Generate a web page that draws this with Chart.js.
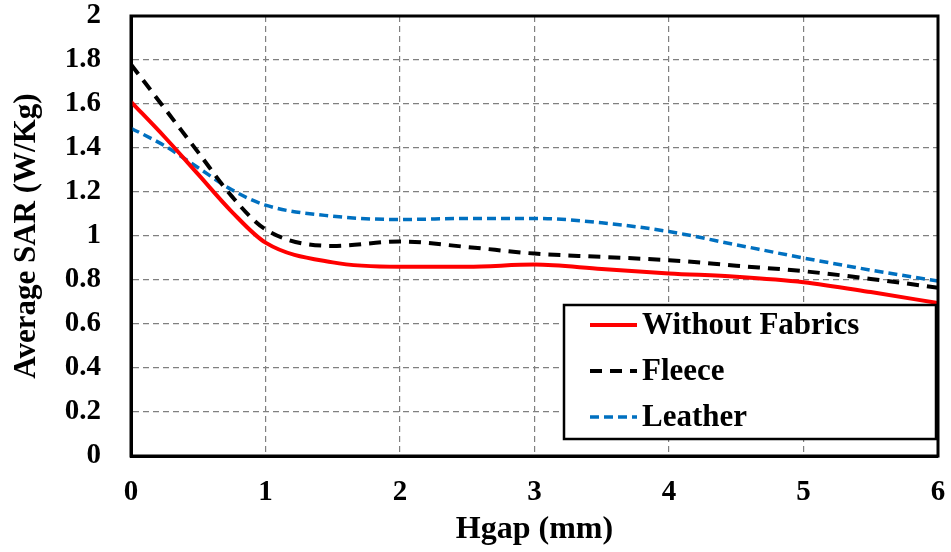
<!DOCTYPE html>
<html>
<head>
<meta charset="utf-8">
<title>Average SAR vs Hgap</title>
<script src="https://cdn.jsdelivr.net/npm/chart.js@4.4.1/dist/chart.umd.min.js"></script>
<style>
  html, body { margin: 0; padding: 0; background: #fff; }
  #wrap { width: 951px; height: 552px; }
</style>
</head>
<body>
<div id="wrap"><canvas id="sarChart" width="951" height="552"></canvas></div>
<script>
  // ── Data ─────────────────────────────────────────────────────
  var HGAP      = [0, 0.25, 0.5, 0.75, 1, 1.5, 2, 2.5, 3, 3.5, 4, 4.5, 5, 5.5, 6];
  var NO_FABRIC = [1.61, 1.45, 1.28, 1.11, 0.97, 0.88, 0.86, 0.86, 0.87, 0.85, 0.83, 0.815, 0.79, 0.745, 0.695];
  var FLEECE    = [1.78, 1.58, 1.38, 1.18, 1.03, 0.955, 0.975, 0.95, 0.92, 0.905, 0.89, 0.865, 0.84, 0.805, 0.765];
  var LEATHER   = [1.49, 1.41, 1.31, 1.21, 1.14, 1.09, 1.075, 1.08, 1.08, 1.06, 1.02, 0.96, 0.90, 0.845, 0.795];
  var SERIES    = ['Without Fabrics', 'Fleece', 'Leather'];
  var X_TICKS   = [0, 1, 2, 3, 4, 5, 6];
  var Y_TICKS   = [0, 0.2, 0.4, 0.6, 0.8, 1, 1.2, 1.4, 1.6, 1.8, 2];

  function pts(ys) {
    return HGAP.map(function (x, i) { return { x: x, y: ys[i] }; });
  }

  var FONT = '"Liberation Serif", "Times New Roman", serif';

  // ── Frame + boxed legend inside the plot ─────────────────────
  var framePlugin = {
    id: 'frameLegend',
    afterDatasetsDraw: function (chart) {
      var ctx = chart.ctx, a = chart.chartArea;
      var bx = a.left + 433, by = a.top + 289, bw = 372, bh = 134;
      ctx.save();
      ctx.fillStyle = '#fff';
      ctx.fillRect(bx, by, bw, bh);
      ctx.strokeStyle = '#000';
      ctx.lineWidth = 2.5;
      ctx.strokeRect(bx, by, bw, bh);
      ctx.font = 'bold 31px ' + FONT;
      ctx.textBaseline = 'middle';
      chart.data.datasets.forEach(function (ds, i) {
        var y = by + 20 + i * 46;
        ctx.beginPath();
        ctx.setLineDash(ds.borderDash || []);
        ctx.strokeStyle = ds.borderColor;
        ctx.lineWidth = ds.borderWidth;
        ctx.moveTo(bx + 26, y);
        ctx.lineTo(bx + 73, y);
        ctx.stroke();
        ctx.setLineDash([]);
        ctx.fillStyle = '#000';
        ctx.fillText(ds.label, bx + 78, y + 1);
      });
      // plot frame
      ctx.setLineDash([]);
      ctx.strokeStyle = '#000';
      ctx.lineWidth = 3;
      ctx.strokeRect(a.left, a.top, a.right - a.left, a.bottom - a.top);
      ctx.restore();
    }
  };

  var gridStyle = { color: '#808080', lineWidth: 1.2, drawTicks: false };
  var tickFont  = { family: FONT, size: 29, weight: 'bold' };

  new Chart(document.getElementById('sarChart').getContext('2d'), {
    type: 'line',
    data: {
      datasets: [{
        label: SERIES[0],
        data: pts(NO_FABRIC),
        borderColor: '#ff0000',
        borderWidth: 4
      }, {
        label: SERIES[1],
        data: pts(FLEECE),
        borderColor: '#000000',
        borderWidth: 4,
        borderDash: [12, 8]
      }, {
        label: SERIES[2],
        data: pts(LEATHER),
        borderColor: '#0070c0',
        borderWidth: 3.5,
        borderDash: [9, 5]
      }]
    },
    options: {
      responsive: false,
      animation: false,
      layout: { padding: { top: 16, right: 13, left: 0, bottom: 0 } },
      elements: {
        point: { radius: 0 },
        line: { cubicInterpolationMode: 'monotone', fill: false }
      },
      plugins: { legend: { display: false }, tooltip: { enabled: false } },
      scales: {
        x: {
          type: 'linear',
          min: 0, max: 6,
          afterFit: function (s) { s.height = 96; s.paddingLeft = 0; s.paddingRight = 0; },
          afterBuildTicks: function (s) { s.ticks = X_TICKS.map(function (v) { return { value: v }; }); },
          grid: gridStyle,
          border: { display: true, color: '#000', width: 3, dash: [6, 4] },
          ticks: { color: '#000', padding: 19, font: tickFont },
          title: {
            display: true, text: 'Hgap (mm)', color: '#000',
            padding: { top: 0, bottom: 3 },
            font: { family: FONT, size: 32, weight: 'bold' }
          }
        },
        y: {
          min: 0, max: 2,
          afterFit: function (s) { s.width = 131; s.paddingTop = 0; s.paddingBottom = 0; },
          afterBuildTicks: function (s) { s.ticks = Y_TICKS.map(function (v) { return { value: v }; }); },
          grid: gridStyle,
          border: { display: true, color: '#000', width: 3, dash: [6, 4] },
          ticks: {
            color: '#000', padding: 30, font: tickFont,
            callback: function (v) { return String(Math.round(v * 10) / 10); }
          },
          title: {
            display: true, text: 'Average SAR (W/Kg)', color: '#000',
            padding: { top: 8, bottom: 0 },
            font: { family: FONT, size: 31, weight: 'bold' }
          }
        }
      }
    },
    plugins: [framePlugin]
  });
</script>
</body>
</html>
